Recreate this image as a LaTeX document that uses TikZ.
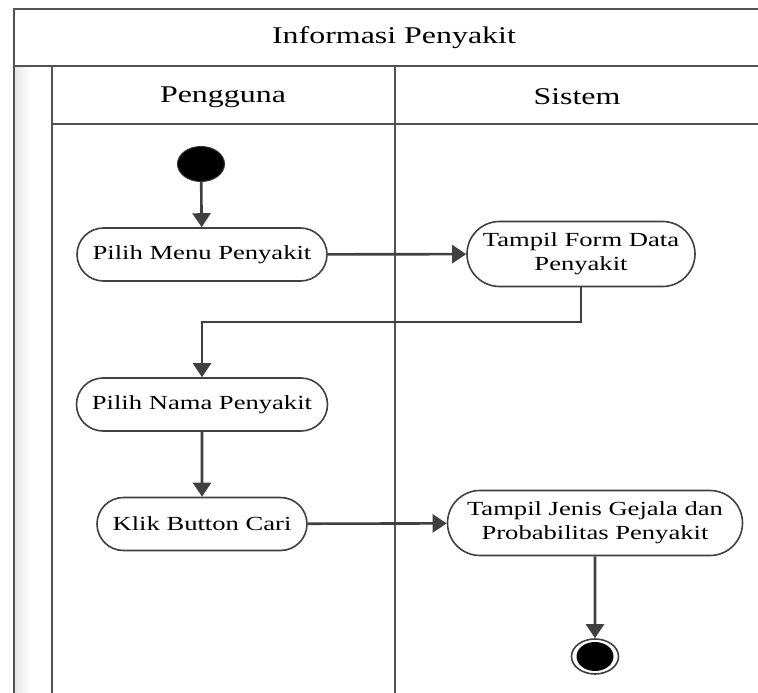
\documentclass[tikz,border=0pt]{standalone}
\usepackage{fontspec}
\setmainfont{Liberation Serif}[FakeStretch=1.33]
\usetikzlibrary{arrows.meta,shapes.misc,shapes.geometric}
\begin{document}
\begin{tikzpicture}[x=1pt,y=-1pt,
  frameline/.style={draw=black!68,line width=2pt},
  act/.style={draw=black!75,line width=1.6pt,rounded rectangle,minimum height=53pt,
    font=\fontsize{20}{24}\selectfont,inner sep=0pt,align=center},
  flow/.style={draw=black!75,line width=2.6pt,-{Triangle[length=14pt,width=18pt]}},
  lanetitle/.style={font=\fontsize{24}{28}\selectfont,inner sep=0pt},
  initst/.style={ellipse,fill=black,draw=black!80,line width=1pt,minimum width=47pt,minimum height=35pt,inner sep=0pt},
  finst/.style={ellipse,draw=black!75,line width=1.6pt,minimum width=47pt,minimum height=35pt,inner sep=0pt},
  finin/.style={ellipse,fill=black,minimum width=37pt,minimum height=29pt,inner sep=0pt},
]
\useasboundingbox (0,0) rectangle (758,693);
\fill[white] (0,0) rectangle (758,693);
% left strip shading
\shade[left color=black!9,right color=white] (15,67) rectangle (32,693);
% frame
\draw[frameline] (758,9) -- (14,9) -- (14,693);
\draw[frameline] (14,66) -- (758,66);
\draw[frameline] (52,66) -- (52,693);
\draw[frameline] (52,124) -- (758,124);
\draw[frameline] (395,66) -- (395,693);
\node[lanetitle] (title) at (394,38) {Informasi Penyakit};
\node[lanetitle] (lane1) at (223,97) {Pengguna};
\node[lanetitle] (lane2) at (577,97) {Sistem};
% nodes
\node[initst] (s) at (201,164) {};
\node[act,minimum width=250pt] (a1) at (202,254.5) {Pilih Menu Penyakit};
\node[act,minimum width=228pt,minimum height=65pt] (a2) at (581,254) {Tampil Form Data\\Penyakit};
\node[act,minimum width=251pt] (a3) at (202,404.5) {Pilih Nama Penyakit};
\node[act,minimum width=210pt] (a4) at (202,524) {Klik Button Cari};
\node[act,minimum width=295pt,minimum height=65pt] (a5) at (595,523) {Tampil Jenis Gejala dan\\Probabilitas Penyakit};
\node[finst] (e) at (595,656.5) {};
\node[finin] (ein) at (595,656.5) {};
\coordinate (turn) at (581,322);
% connectors
\draw[flow] (s) -- (a1);
\draw[flow] (a1) -- (a2);
\draw[flow] (a2.south) -- (turn) -| (a3.north);
\draw[flow] (a3) -- (a4);
\draw[flow] (a4) -- (a5);
\draw[flow] (a5) -- (e);
\end{tikzpicture}
\end{document}
